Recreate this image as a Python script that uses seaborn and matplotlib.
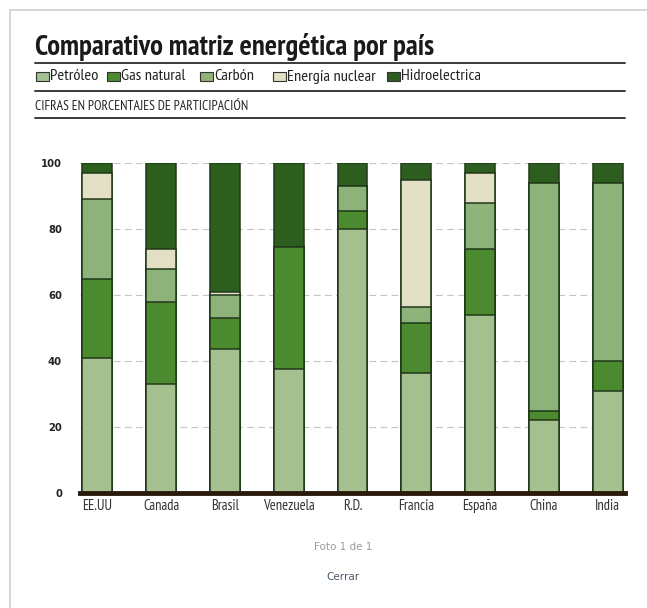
import matplotlib
matplotlib.use("Agg")
import matplotlib.pyplot as plt
from matplotlib import font_manager as fm
import seaborn as sns
import numpy as np
import pandas as pd
from matplotlib.patches import Rectangle
from matplotlib.lines import Line2D

paises = ["EE.UU", "Canada", "Brasil", "Venezuela", "R.D.", "Francia", "España", "China", "India"]
petroleo = [41, 33, 43.5, 37.5, 80, 36.5, 54, 22, 31]
gas_natural = [24, 25, 9.5, 37, 5.5, 15, 20, 3, 9]
carbon = [24, 10, 7, 0, 7.5, 5, 14, 69, 54]
nuclear = [8, 6, 1, 0, 0, 38.5, 9, 0, 0]
hidro = [3, 26, 39, 25.5, 7, 5, 3, 6, 6]
series_nombres = ["Petróleo", "Gas natural", "Carbón", "Energía nuclear", "Hidroelectrica"]
yticks = [0, 20, 40, 60, 80, 100]

colores = ["#a3c08e", "#4b8a2f", "#8db27a", "#e3dfc5", "#2b5e1f"]
borde = "#22381a"

sns.set_theme(style="white")

avail = {}
for f in fm.fontManager.ttflist:
    avail.setdefault(f.name, set()).add(f.weight if isinstance(f.weight, int) else 400)
cands = ["PT Sans Narrow", "Fira Sans Condensed", "Roboto Condensed", "Archivo Narrow",
         "Ubuntu Condensed", "Open Sans Condensed", "Asap Condensed", "Encode Sans Condensed",
         "Barlow Semi Condensed", "Liberation Sans Narrow", "Encode Sans Semi Condensed",
         "Fira Sans Extra Condensed", "Barlow Condensed", "Lato"]
cond = next((c for c in cands if c in avail), "Lato")
bold_ok = any(w >= 700 for w in avail.get(cond, {400}))
cond_b = cond if bold_ok else next((c for c in cands if c in avail and any(w >= 700 for w in avail[c])), "Lato")

plt.rcParams["font.family"] = [cond, "DejaVu Sans"]

fig = plt.figure(figsize=(6.47, 6.08), dpi=100)
W, H = 647, 608
renderer = fig.canvas.get_renderer()

def fx(px):
    return px / W

def fy(py):
    return 1 - py / H

def fit(t, target_px):
    w = t.get_window_extent(renderer=renderer).width
    t.set_fontsize(t.get_fontsize() * target_px / w)
    return t

ax = fig.add_axes([fx(80), fy(493), fx(625) - fx(80), fy(163) - fy(493)])

capas = [petroleo, gas_natural, carbon, nuclear, hidro]
acum = np.cumsum(np.array(capas, dtype=float), axis=0)
for k in range(len(capas) - 1, -1, -1):
    df = pd.DataFrame({"pais": paises, "valor": acum[k]})
    sns.barplot(data=df, x="pais", y="valor", color=colores[k], saturation=1,
                width=0.47, edgecolor=borde, linewidth=1.1, ax=ax, zorder=3)

ax.set_ylim(0, 100)
ax.set_xlim(-0.27, 8.27)
ax.set_yticks(yticks)
ax.set_yticklabels([str(t) for t in yticks], fontsize=7.2, fontweight="bold", color="#222222",
                   family=["DejaVu Sans"])
ax.tick_params(axis="y", length=0, pad=13)
ax.tick_params(axis="x", length=0, pad=4, labelcolor="#333333")
ax.set_xlabel("")
ax.set_ylabel("")
for t in yticks[1:]:
    ax.axhline(t, color="#c4c4c4", lw=0.8, ls=(0, (6, 4)), zorder=1)
for s in ["top", "right", "left"]:
    ax.spines[s].set_visible(False)
ax.spines["bottom"].set_color("#2a1a0c")
ax.spines["bottom"].set_linewidth(3.5)
ax.spines["bottom"].set_zorder(5)

# x tick label size: fit "Venezuela" to ~52 px
probe = fig.text(0, 0, "Venezuela", fontsize=10)
fit(probe, 52)
xs = probe.get_fontsize()
probe.remove()
ax.tick_params(axis="x", labelsize=xs)

# frame
fig.patches.append(Rectangle((fx(10), fy(700)), fx(700), fy(10) - fy(700), transform=fig.transFigure,
                             fill=False, edgecolor="#d0d0d0", lw=1.2))

# title and header lines
title = fig.text(fx(35), fy(47), "Comparativo matriz energética por país", fontsize=20,
                 fontweight="bold", color="#1a1a1a", va="center", ha="left",
                 family=[cond_b, "DejaVu Sans"])
fit(title, 400)
for py in [63, 91, 118]:
    fig.add_artist(Line2D([fx(35), fx(625)], [fy(py), fy(py)], color="#3a3a3a", lw=1.4,
                          transform=fig.transFigure))

leg_x = [36, 107, 200, 273, 387]
leg_w = [47, 65, 41, 88, 77]
leg_fs = []
for nombre, wt in zip(series_nombres, leg_w):
    p = fig.text(0, 0, nombre, fontsize=10)
    fit(p, wt)
    leg_fs.append(p.get_fontsize())
    p.remove()
lfs = float(np.median(leg_fs))
for xk, nombre, c in zip(leg_x, series_nombres, colores):
    fig.patches.append(Rectangle((fx(xk), fy(81)), fx(13), fy(72) - fy(81), transform=fig.transFigure,
                                 facecolor=c, edgecolor="#333333", lw=0.8))
    fig.text(fx(xk + 14), fy(76.5), nombre, fontsize=lfs, color="#222222", va="center", ha="left")

sub = fig.text(fx(35), fy(106), "CIFRAS EN PORCENTAJES DE PARTICIPACIÓN", fontsize=7.5,
               color="#222222", va="center", ha="left")
fit(sub, 212)

fig.text(fx(343), fy(547), "Foto 1 de 1", fontsize=7.5, color="#9a9a9a", ha="center", va="center",
         family=["DejaVu Sans"])
fig.text(fx(343), fy(577), "Cerrar", fontsize=7.5, color="#4a5a6a", ha="center", va="center",
         family=["DejaVu Sans"])

fig.savefig("out.png", dpi=100, facecolor="white")
